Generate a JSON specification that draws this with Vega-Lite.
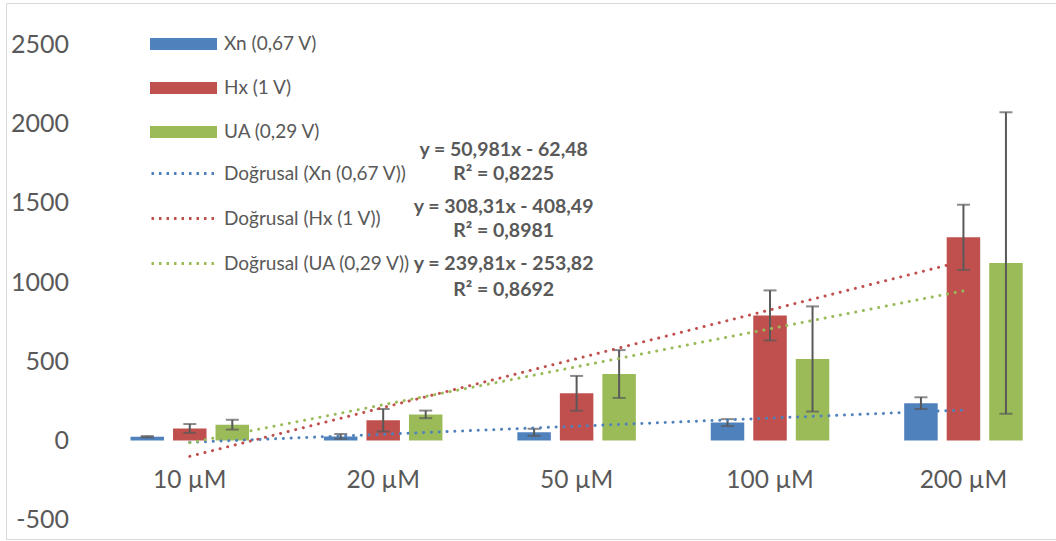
{
  "$schema": "https://vega.github.io/schema/vega-lite/v6.json",
  "width": 1050,
  "height": 536,
  "autosize": {"type": "none"},
  "padding": {"left": 6, "top": 3, "right": 0, "bottom": 2},
  "background": "white",
  "config": {
    "view": {"stroke": "#d9d9d9", "strokeWidth": 1},
    "font": "Lato",
    "axis": {"labelFont": "Lato", "labelColor": "#595959", "labelFontSize": 25, "domain": false, "ticks": false, "tickSize": 0, "grid": false, "title": null},
    "legend": {"labelFont": "Lato", "labelFontSize": 19, "labelColor": "#595959", "labelLimit": 400, "padding": 0, "title": null, "orient": "none"}
  },
  "datasets": {
    "bars": [
      {"cat": "10 µM", "s": "Xn (0,67 V)", "v": 24, "lo": 20, "hi": 28},
      {"cat": "20 µM", "s": "Xn (0,67 V)", "v": 26, "lo": 11, "hi": 41},
      {"cat": "50 µM", "s": "Xn (0,67 V)", "v": 52, "lo": 30, "hi": 74},
      {"cat": "100 µM", "s": "Xn (0,67 V)", "v": 113, "lo": 91, "hi": 135},
      {"cat": "200 µM", "s": "Xn (0,67 V)", "v": 236, "lo": 199, "hi": 273},
      {"cat": "10 µM", "s": "Hx (1 V)", "v": 76, "lo": 48, "hi": 104},
      {"cat": "20 µM", "s": "Hx (1 V)", "v": 128, "lo": 57, "hi": 199},
      {"cat": "50 µM", "s": "Hx (1 V)", "v": 298, "lo": 188, "hi": 408},
      {"cat": "100 µM", "s": "Hx (1 V)", "v": 790, "lo": 632, "hi": 948},
      {"cat": "200 µM", "s": "Hx (1 V)", "v": 1283, "lo": 1077, "hi": 1489},
      {"cat": "10 µM", "s": "UA (0,29 V)", "v": 100, "lo": 69, "hi": 131},
      {"cat": "20 µM", "s": "UA (0,29 V)", "v": 165, "lo": 141, "hi": 189},
      {"cat": "50 µM", "s": "UA (0,29 V)", "v": 420, "lo": 269, "hi": 571},
      {"cat": "100 µM", "s": "UA (0,29 V)", "v": 515, "lo": 183, "hi": 847},
      {"cat": "200 µM", "s": "UA (0,29 V)", "v": 1121, "lo": 169, "hi": 2073}
    ],
    "trend": [
      {"cat": "10 µM", "t": "Doğrusal (Xn (0,67 V))", "v": -11.5},
      {"cat": "200 µM", "t": "Doğrusal (Xn (0,67 V))", "v": 192.4},
      {"cat": "10 µM", "t": "Doğrusal (Hx (1 V))", "v": -100.2},
      {"cat": "200 µM", "t": "Doğrusal (Hx (1 V))", "v": 1133.1},
      {"cat": "10 µM", "t": "Doğrusal (UA (0,29 V))", "v": -14.0},
      {"cat": "200 µM", "t": "Doğrusal (UA (0,29 V))", "v": 945.2}
    ],
    "notes": [
      {"t": "y = 50,981x - 62,48", "y": 1835},
      {"t": "R² = 0,8225", "y": 1683},
      {"t": "y = 308,31x - 408,49", "y": 1474},
      {"t": "R² = 0,8981", "y": 1323},
      {"t": "y = 239,81x - 253,82", "y": 1115},
      {"t": "R² = 0,8692", "y": 950}
    ]
  },
  "layer": [
    {
      "data": {"values": [{}]},
      "mark": {"type": "rule", "color": "#d9d9d9", "strokeWidth": 2},
      "encoding": {
        "x": {"value": "width"},
        "x2": {"datum": "10 µM", "bandPosition": -0.29},
        "y": {"datum": 0, "type": "quantitative"}
      }
    },
    {
      "data": {"name": "bars"},
      "mark": {"type": "bar"},
      "encoding": {
        "x": {
          "field": "cat", "type": "nominal",
          "scale": {"domain": ["10 µM", "20 µM", "50 µM", "100 µM", "200 µM"], "paddingInner": 0.3873, "paddingOuter": 0.408, "align": 0.789},
          "axis": {"orient": "bottom", "offset": -98.5, "labelPadding": 28, "labelAngle": 0, "labelFontSize": 24.5}
        },
        "xOffset": {
          "field": "s", "type": "nominal",
          "scale": {"domain": ["Xn (0,67 V)", "Hx (1 V)", "UA (0,29 V)"], "paddingInner": 0.212, "paddingOuter": 0}
        },
        "y": {
          "field": "v", "type": "quantitative",
          "scale": {"domain": [-622, 2763], "nice": false, "zero": false},
          "axis": {"orient": "left", "values": [-500, 0, 500, 1000, 1500, 2000, 2500], "labelExpr": "'' + datum.value", "offset": -62.5, "labelPadding": 0}
        },
        "color": {
          "field": "s", "type": "nominal",
          "scale": {"domain": ["Xn (0,67 V)", "Hx (1 V)", "UA (0,29 V)"], "range": ["#4F81BD", "#C0504D", "#9BBB59"]},
          "legend": {"orient": "none", "legendX": 144, "legendY": 7.5, "symbolType": "M-1,-0.18H1V0.18H-1Z", "symbolSize": 4489, "symbolStrokeWidth": 0, "rowPadding": -23.5, "labelOffset": 7, "direction": "vertical"}
        }
      }
    },
    {
      "data": {"name": "bars"},
      "mark": {"type": "rule", "color": "#595959", "strokeWidth": 2},
      "encoding": {
        "x": {"field": "cat", "type": "nominal"},
        "xOffset": {"field": "s", "type": "nominal"},
        "y": {"field": "lo", "type": "quantitative"},
        "y2": {"field": "hi"}
      }
    },
    {
      "data": {"name": "bars"},
      "mark": {"type": "tick", "color": "#595959", "thickness": 2, "size": 13},
      "encoding": {
        "x": {"field": "cat", "type": "nominal"},
        "xOffset": {"field": "s", "type": "nominal"},
        "y": {"field": "lo", "type": "quantitative"}
      }
    },
    {
      "data": {"name": "bars"},
      "mark": {"type": "tick", "color": "#595959", "thickness": 2, "size": 13},
      "encoding": {
        "x": {"field": "cat", "type": "nominal"},
        "xOffset": {"field": "s", "type": "nominal"},
        "y": {"field": "hi", "type": "quantitative"}
      }
    },
    {
      "data": {"name": "trend"},
      "mark": {"type": "line", "strokeWidth": 3, "strokeCap": "round", "strokeDash": [0.1, 7.7]},
      "encoding": {
        "x": {"field": "cat", "type": "nominal"},
        "y": {"field": "v", "type": "quantitative"},
        "stroke": {
          "field": "t", "type": "nominal",
          "scale": {"domain": ["Doğrusal (Xn (0,67 V))", "Doğrusal (Hx (1 V))", "Doğrusal (UA (0,29 V))"], "range": ["#4F81BD", "#C0504D", "#9BBB59"]},
          "legend": {"orient": "none", "legendX": 144, "legendY": 135.5, "symbolType": "stroke", "symbolSize": 4489, "symbolStrokeWidth": 3, "symbolDash": [2.5, 5], "rowPadding": -23.5, "labelOffset": 4, "direction": "vertical"}
        }
      }
    },
    {
      "data": {"name": "notes"},
      "mark": {"type": "text", "font": "Lato", "fontWeight": "bold", "fontSize": 19.5, "color": "#595959", "align": "center", "baseline": "middle", "dx": -73},
      "encoding": {
        "x": {"datum": "50 µM", "type": "nominal"},
        "y": {"field": "y", "type": "quantitative"},
        "text": {"field": "t"}
      }
    }
  ]
}
